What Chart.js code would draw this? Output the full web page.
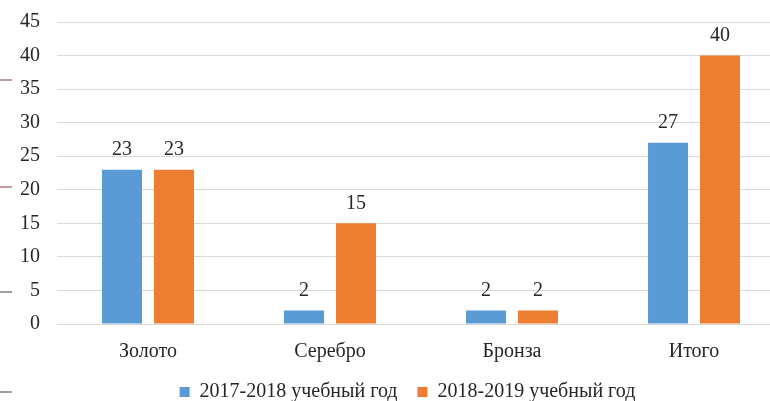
<!DOCTYPE html>
<html>
<head>
<meta charset="utf-8">
<script src="https://cdn.jsdelivr.net/npm/chart.js@4"></script>
<style>
  html, body { margin: 0; padding: 0; background: #fff; overflow: hidden; }
  #wrap { width: 818px; height: 401px; }
</style>
</head>
<body>
<div id="wrap"><canvas id="barChart" width="818" height="401"></canvas></div>
<script>
const categories = ['Золото', 'Серебро', 'Бронза', 'Итого'];
const seriesNames = ['2017-2018 учебный год', '2018-2019 учебный год'];
const values2017 = [23, 2, 2, 27];
const values2018 = [23, 15, 2, 40];
const yTicks = [0, 5, 10, 15, 20, 25, 30, 35, 40, 45];

const FONT = '"Liberation Serif", "Times New Roman", serif';
const TEXT = '#262626';

// value labels above the bars
const valueLabels = {
  id: 'valueLabels',
  afterDatasetsDraw(chart) {
    const ctx = chart.ctx;
    ctx.save();
    ctx.font = '20px ' + FONT;
    ctx.fillStyle = TEXT;
    ctx.textAlign = 'center';
    ctx.textBaseline = 'bottom';
    chart.data.datasets.forEach((ds, i) => {
      chart.getDatasetMeta(i).data.forEach((bar, j) => {
        ctx.fillText(ds.data[j], bar.x, bar.y - 10);
      });
    });
    ctx.restore();
  }
};

// little stray strokes on the left edge of the original picture
const edgeMarks = {
  id: 'edgeMarks',
  beforeDraw(chart) {
    const ctx = chart.ctx;
    ctx.save();
    ctx.lineWidth = 2;
    [[80, '#c49a9a'], [187, '#c49a9a'], [292, '#a0a0a0'], [392, '#a0a0a0']].forEach(m => {
      ctx.strokeStyle = m[1];
      ctx.beginPath();
      ctx.moveTo(0, m[0]);
      ctx.lineTo(12, m[0]);
      ctx.stroke();
    });
    ctx.restore();
  }
};

// legend sits centred on the whole picture, not on the plot
const shiftLegend = {
  id: 'shiftLegend',
  afterLayout(chart) {
    chart.legend.left += 15;
    chart.legend.right += 15;
  }
};

let ctx = document.getElementById('barChart');
let barChart = new Chart(ctx, {
  type: 'bar',
  data: {
    labels: categories,
    datasets: [{
      label: seriesNames[0],
      data: values2017,
      backgroundColor: '#5B9BD5'
    }, {
      label: seriesNames[1],
      data: values2018,
      backgroundColor: '#ED7D31'
    }]
  },
  options: {
    responsive: false,
    animation: false,
    categoryPercentage: 0.571,
    barPercentage: 0.77,
    layout: { padding: { top: 22, right: 33, bottom: -11, left: 0 } },
    plugins: {
      tooltip: { enabled: false },
      legend: {
        position: 'bottom',
        labels: {
          font: { family: FONT, size: 20 },
          color: TEXT,
          boxWidth: 10,
          boxHeight: 10,
          padding: 20
        }
      }
    },
    scales: {
      x: {
        afterFit(axis) { axis.height = 38; },
        grid: { display: false, drawTicks: false },
        border: { color: '#D9D9D9', width: 1 },
        ticks: { font: { family: FONT, size: 20 }, color: TEXT, padding: 16 }
      },
      y: {
        min: 0,
        max: 45,
        afterBuildTicks(axis) { axis.ticks = yTicks.map(v => ({ value: v })); },
        afterFit(axis) { axis.width = 57; axis.paddingTop = 0; axis.paddingBottom = 0; },
        grid: { color: '#D9D9D9', drawTicks: false },
        border: { display: false },
        ticks: { font: { family: FONT, size: 20 }, color: TEXT, padding: 17 }
      }
    }
  },
  plugins: [valueLabels, edgeMarks, shiftLegend]
});
</script>
</body>
</html>
